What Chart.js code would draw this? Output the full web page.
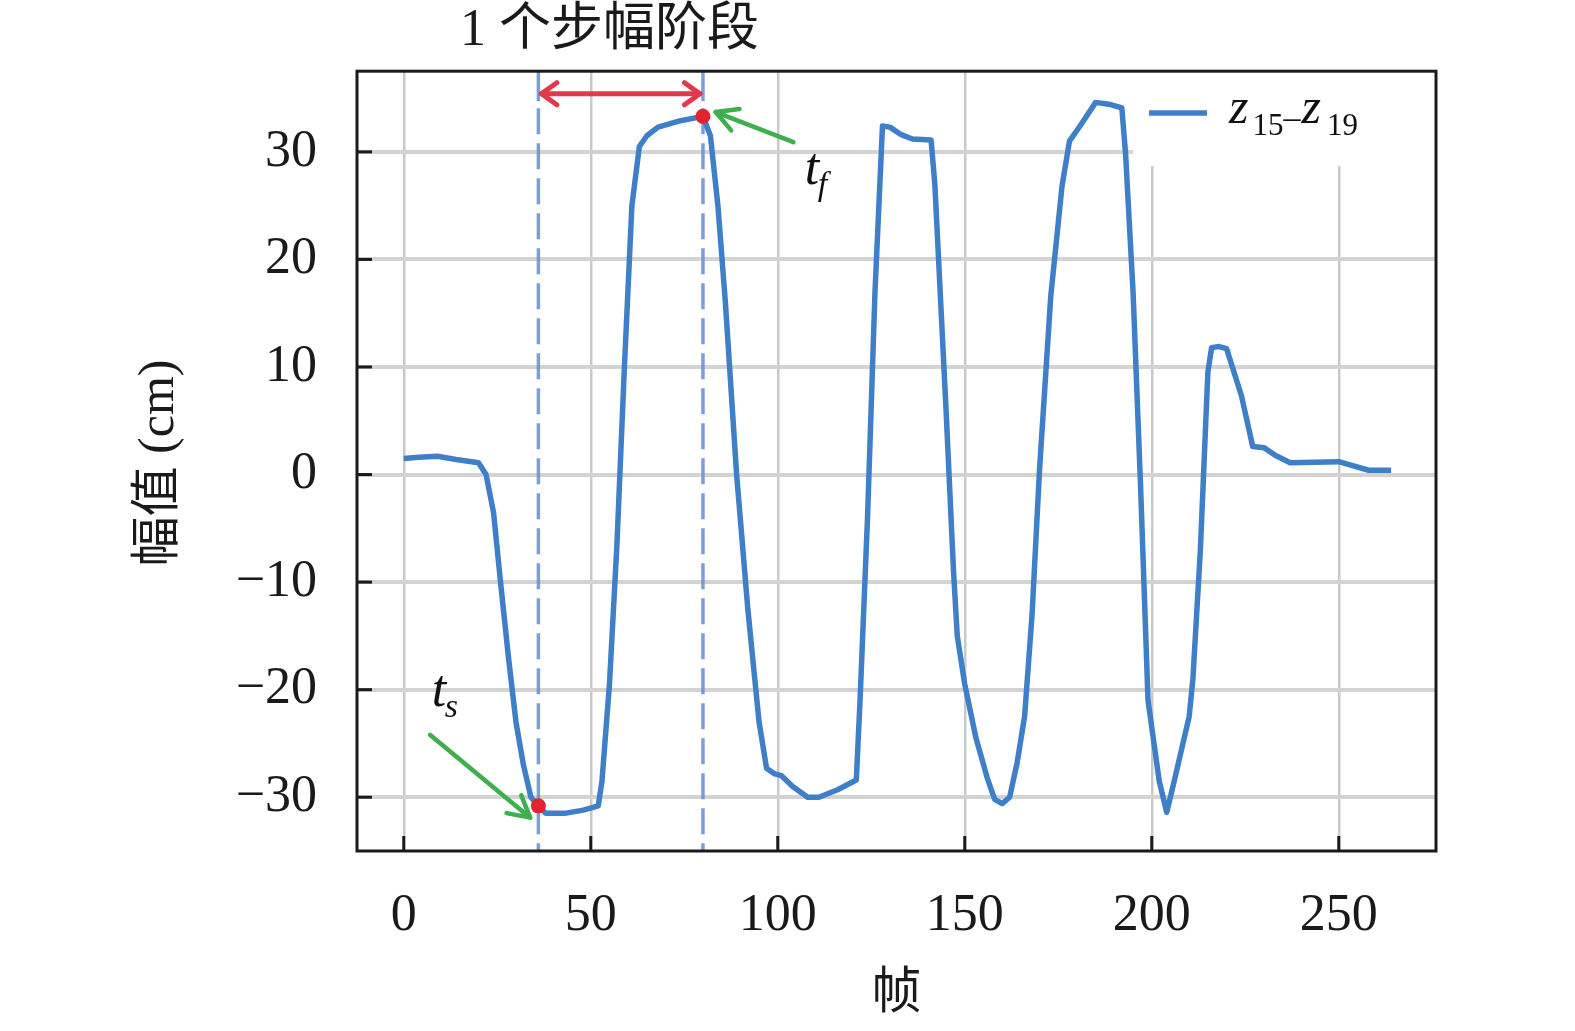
<!DOCTYPE html>
<html><head><meta charset="utf-8">
<script src="https://cdn.jsdelivr.net/npm/chart.js@4.4.1/dist/chart.umd.min.js"></script>
<style>html,body{margin:0;padding:0;background:#fff;overflow:hidden}canvas{display:block}</style>
</head><body>
<canvas id="c" width="1575" height="1031"></canvas>
<script>
// ---- data ----
const frames = [0,4,9,14,20,22,24,26,28,30,32,34,36,38,43,48,52,53,55,57,59,61,63,65,68,74,80,82,84,86,89,92,95,97,99,101,104,108,111,116,121,122,124,126,128,130,133,136,141,142,145,147,148,150,153,156,158,160,162,164,166,168,170,173,176,178,181,185,189,192,193,195,197,199,202,204,206,210,211,213,215,216,218,220,224,227,230,233,237,250,253,258,264];
const values = [1.5,1.6,1.7,1.4,1.1,0.0,-3.5,-10.4,-17.0,-23.0,-27.0,-30.0,-30.8,-31.5,-31.5,-31.2,-30.8,-28.5,-19.5,-6.5,10.0,25.0,30.5,31.5,32.3,32.9,33.3,31.5,25.0,16.0,0.0,-12.5,-23.0,-27.3,-27.8,-28.0,-29.0,-30.0,-30.0,-29.3,-28.4,-21.0,-4.0,17.0,32.4,32.3,31.6,31.2,31.1,27.0,6.0,-9.0,-15.0,-19.5,-24.5,-28.2,-30.2,-30.6,-30.0,-26.8,-22.5,-13.0,0.5,16.6,26.8,31.0,32.5,34.6,34.4,34.1,29.8,17.0,-1.0,-21.0,-28.5,-31.4,-28.5,-22.5,-19.0,-7.0,9.5,11.8,11.9,11.7,7.3,2.6,2.5,1.8,1.1,1.2,0.9,0.4,0.4];
const markerFrames = [36, 80];
const markerValues = [-30.8, 33.3];
const xTicks = [0,50,100,150,200,250];
const yTicks = [-30,-20,-10,0,10,20,30];
const seriesName = ['z','15','–','z','19'];
const titleText = '1 个步幅阶段';
const xTitle = '帧';
const yTitle = '幅值 (cm)';
// annotation anchors (data units)
const strideStart = 36, strideEnd = 80, strideArrowY = 35.4;
const tsArrow = [7.0, -24.2, 33.8, -31.9];
const tfArrow = [104.2, 30.9, 83.4, 33.7];
const tsLabel = [7.5, -21.5];
const tfLabel = [107.2, 27.0];
const titleAt = 55;

const SERIF = '"Liberation Serif", "Times New Roman", serif';
const CJK = '"Liberation Serif", "Noto Sans CJK SC", serif';
const LINE = '#3f7fc8';

function arrowHead(ctx, x, y, ang, len, spread) {
  ctx.beginPath();
  ctx.moveTo(x - len*Math.cos(ang - spread), y - len*Math.sin(ang - spread));
  ctx.lineTo(x, y);
  ctx.lineTo(x - len*Math.cos(ang + spread), y - len*Math.sin(ang + spread));
  ctx.stroke();
}

const deco = {
  id: 'deco',
  beforeDatasetsDraw(chart) {
    const {ctx, chartArea: a, scales: {x, y}} = chart;
    ctx.save();
    // legend background
    ctx.fillStyle = '#fff';
    ctx.fillRect(1133, a.top, a.right - 1133, 166 - a.top);
    // stride dashed verticals
    ctx.strokeStyle = 'rgba(100,140,212,0.85)';
    ctx.lineWidth = 3.5;
    [strideStart, strideEnd].forEach(f => {
      const px = x.getPixelForValue(f);
      ctx.setLineDash([]);
      ctx.beginPath(); ctx.moveTo(px, a.top); ctx.lineTo(px, a.top + 30); ctx.stroke();
      ctx.setLineDash([26, 9]);
      ctx.beginPath(); ctx.moveTo(px, a.top + 37); ctx.lineTo(px, a.bottom); ctx.stroke();
    });
    ctx.restore();
  },
  afterDatasetsDraw(chart) {
    const {ctx, chartArea: a, scales: {x, y}} = chart;
    ctx.save();
    // red double arrow
    const x1 = x.getPixelForValue(strideStart) + 3, x2 = x.getPixelForValue(strideEnd) - 3;
    const ay = y.getPixelForValue(strideArrowY);
    ctx.strokeStyle = '#e03a4c'; ctx.lineWidth = 5; ctx.lineCap = 'round'; ctx.lineJoin = 'round';
    ctx.beginPath(); ctx.moveTo(x1, ay); ctx.lineTo(x2, ay); ctx.stroke();
    arrowHead(ctx, x2, ay, 0, 19, 0.62);
    arrowHead(ctx, x1, ay, Math.PI, 19, 0.62);
    // green arrows
    ctx.strokeStyle = '#3fae4c'; ctx.lineWidth = 4.5;
    [tsArrow, tfArrow].forEach(ar => {
      const sx = x.getPixelForValue(ar[0]), sy = y.getPixelForValue(ar[1]);
      const ex = x.getPixelForValue(ar[2]), ey = y.getPixelForValue(ar[3]);
      ctx.beginPath(); ctx.moveTo(sx, sy); ctx.lineTo(ex, ey); ctx.stroke();
      arrowHead(ctx, ex, ey, Math.atan2(ey - sy, ex - sx), 24, 0.5);
    });
    // t_s, t_f labels
    ctx.fillStyle = '#111'; ctx.textBaseline = 'alphabetic'; ctx.textAlign = 'left';
    [[tsLabel, 's'], [tfLabel, 'f']].forEach(([p, sub]) => {
      const px = x.getPixelForValue(p[0]), py = y.getPixelForValue(p[1]);
      ctx.font = 'italic 52px ' + SERIF; ctx.fillText('t', px, py);
      ctx.font = 'italic 34px ' + SERIF; ctx.fillText(sub, px + 13, py + 11);
    });
    // legend
    ctx.strokeStyle = LINE; ctx.lineWidth = 5.5; ctx.lineCap = 'butt';
    ctx.beginPath(); ctx.moveTo(1149, 113); ctx.lineTo(1207, 113); ctx.stroke();
    let lx = 1229;
    const parts = [
      ['italic 50px ' + SERIF, 123, 4],
      ['31px ' + SERIF, 135, 0],
      ['34px ' + SERIF, 128, 1],
      ['italic 50px ' + SERIF, 123, 6],
      ['31px ' + SERIF, 135, 0]
    ];
    seriesName.forEach((s, i) => {
      ctx.font = parts[i][0];
      ctx.fillText(s, lx, parts[i][1]);
      lx += ctx.measureText(s).width + parts[i][2];
    });
    ctx.restore();
  },
  afterDraw(chart) {
    const {ctx, chartArea: a, scales: {x, y}} = chart;
    ctx.save();
    // frame
    ctx.strokeStyle = '#1a1a1a'; ctx.lineWidth = 3;
    ctx.strokeRect(a.left, a.top, a.right - a.left, a.bottom - a.top);
    // inward ticks
    ctx.lineWidth = 3;
    yTicks.forEach(v => { const py = y.getPixelForValue(v);
      ctx.beginPath(); ctx.moveTo(a.left, py); ctx.lineTo(a.left + 15, py); ctx.stroke(); });
    xTicks.forEach(v => { const px = x.getPixelForValue(v);
      ctx.beginPath(); ctx.moveTo(px, a.bottom); ctx.lineTo(px, a.bottom - 15); ctx.stroke(); });
    // titles
    ctx.fillStyle = '#1a1a1a';
    ctx.textAlign = 'center'; ctx.textBaseline = 'middle';
    ctx.font = '52px ' + CJK;
    ctx.fillText(titleText, x.getPixelForValue(titleAt), 31);
    ctx.font = '50px ' + CJK;
    ctx.fillText(xTitle, (a.left + a.right) / 2, 995);
    ctx.translate(160, 463); ctx.rotate(-Math.PI / 2);
    ctx.fillText(yTitle, 0, 0);
    ctx.restore();
  }
};

new Chart(document.getElementById('c'), {
  type: 'line',
  data: {
    datasets: [
      { label: 'markers', type: 'scatter', data: markerFrames.map((f, i) => ({x: f, y: markerValues[i]})),
        pointRadius: 7.5, pointBackgroundColor: '#e52230', pointBorderWidth: 0, showLine: false, order: 1 },
      { label: seriesName.join(''), data: frames.map((f, i) => ({x: f, y: values[i]})),
        borderColor: LINE, borderWidth: 5.5, pointRadius: 0, tension: 0, fill: false,
        borderJoinStyle: 'round', order: 2 }
    ]
  },
  options: {
    responsive: false, animation: false, devicePixelRatio: 1,
    layout: { padding: { top: 68, right: 139, left: 0, bottom: 0 } },
    plugins: { legend: { display: false }, tooltip: { enabled: false }, title: { display: false } },
    scales: {
      x: {
        type: 'linear', min: -12.5, max: 276,
        afterBuildTicks: s => { s.ticks = xTicks.map(v => ({value: v})); },
        afterFit: s => { s.height = 180; },
        grid: { color: '#c9c9c9', lineWidth: 2.5, drawTicks: false },
        border: { display: false },
        ticks: { padding: 34, color: '#1a1a1a', font: { family: SERIF, size: 52 }, maxRotation: 0 }
      },
      y: {
        type: 'linear', min: -35, max: 37.5,
        afterBuildTicks: s => { s.ticks = yTicks.map(v => ({value: v})); },
        afterFit: s => { s.width = 357; },
        grid: { color: '#d3d3d3', lineWidth: 4, drawTicks: false },
        border: { display: false },
        ticks: { padding: 40, color: '#1a1a1a', font: { family: SERIF, size: 52 },
          callback: v => String(v).replace('-', '\u2212') }
      }
    }
  },
  plugins: [deco]
});
</script>
</body></html>
